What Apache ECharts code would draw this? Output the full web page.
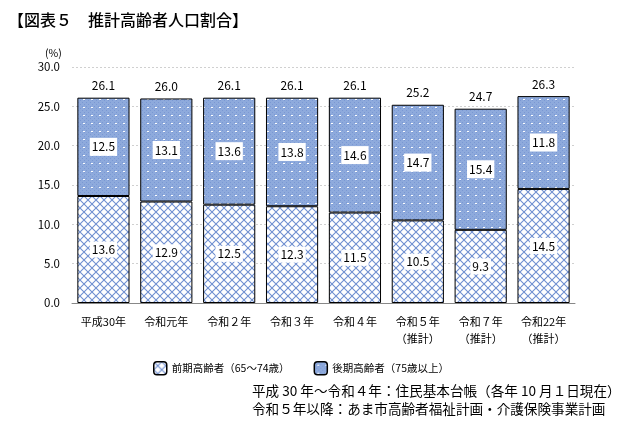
<!DOCTYPE html>
<html><head><meta charset="utf-8">
<script src="https://cdn.jsdelivr.net/npm/echarts@6/dist/echarts.min.js"></script>
<style>html,body{margin:0;padding:0;background:#fff}#c{width:635px;height:426px}</style>
</head><body><div id="c"></div>
<script>
const categories = ['平成30年','令和元年','令和２年','令和３年','令和４年','令和５年\n（推計）','令和７年\n（推計）','令和22年\n（推計）'];
const earlyElderly = [13.6,12.9,12.5,12.3,11.5,10.5,9.3,14.5];
const lateElderly = [12.5,13.1,13.6,13.8,14.6,14.7,15.4,11.8];
const totals = [26.1,26.0,26.1,26.1,26.1,25.2,24.7,26.3];
const yTicks = [0,5,10,15,20,25,30];

function makeLattice(){
  const c=document.createElement('canvas');c.width=8;c.height=8;
  const g=c.getContext('2d');
  g.fillStyle='#ffffff';g.fillRect(0,0,8,8);
  g.strokeStyle='#6f8fd0';g.lineWidth=1.1;
  g.beginPath();
  g.moveTo(0,0);g.lineTo(8,8);
  g.moveTo(8,0);g.lineTo(0,8);
  g.stroke();
  return c;
}
function makeDots(){
  const c=document.createElement('canvas');c.width=8;c.height=8;
  const g=c.getContext('2d');
  g.fillStyle='#8eaadc';g.fillRect(0,0,8,8);
  g.fillStyle='#7a98d4';
  for(let i=0;i<8;i+=2)for(let j=0;j<8;j+=2){ if(((i+j)/2)%2===0) g.fillRect(i,j,1,1);}
  g.fillStyle='#ffffff';
  g.fillRect(3,3,2,1);
  return c;
}
const latticeImg=makeLattice(), dotImg=makeDots();

const chart=echarts.init(document.getElementById('c'),null,{renderer:'canvas'});
const font='"Noto Sans CJK JP","Noto Sans",sans-serif';
chart.setOption({
  animation:false,
  textStyle:{fontFamily:font},
  title:[
    {text:'【図表５　推計高齢者人口割合】',left:3,top:7,textStyle:{fontSize:16,fontWeight:500,color:'#000',fontFamily:font}},
    {text:'(%)',left:40,top:43,textStyle:{fontSize:10.5,fontWeight:'normal',color:'#000',fontFamily:font}},
    {text:'平成 30 年～令和４年：住民基本台帳（各年 10 月１日現在）\n令和５年以降：あま市高齢者福祉計画・介護保険事業計画',left:247,top:377,textStyle:{fontSize:13.6,fontWeight:'normal',color:'#000',lineHeight:18,fontFamily:font}}
  ],
  legend:{
    left:148,top:356,itemWidth:13,itemHeight:13,itemGap:24,
    textStyle:{fontSize:10.5,color:'#000',fontFamily:font},
    data:[
      {name:'前期高齢者（65～74歳）',itemStyle:{borderColor:'#000',borderWidth:1.5}},
      {name:'後期高齢者（75歳以上）',itemStyle:{borderColor:'#000',borderWidth:1.5}}
    ]
  },
  grid:{left:72,right:60,top:67,bottom:123},
  xAxis:{type:'category',data:categories,
    axisLine:{lineStyle:{color:'#888',width:1}},axisTick:{show:false},
    axisLabel:{color:'#000',fontSize:11,margin:10,lineHeight:17,interval:0}},
  yAxis:{type:'value',min:0,max:30,interval:5,
    axisLine:{show:false},axisTick:{show:false},
    splitLine:{lineStyle:{color:'#d0d0d0',type:[2,2]}},
    axisLabel:{color:'#000',fontSize:11.5,margin:12,formatter:v=>yTicks.includes(v)?v.toFixed(1):''}},
  series:[
    {name:'前期高齢者（65～74歳）',type:'bar',stack:'a',barWidth:'83%',data:earlyElderly,
      itemStyle:{color:{image:latticeImg,repeat:'repeat'},borderColor:'#000',borderWidth:1},
      label:{show:true,position:'inside',color:'#000',fontSize:12,backgroundColor:'#fff',padding:[2,2],formatter:p=>p.value.toFixed(1)}},
    {name:'後期高齢者（75歳以上）',type:'bar',stack:'a',barWidth:'83%',data:lateElderly,
      itemStyle:{color:{image:dotImg,repeat:'repeat'},borderColor:'#000',borderWidth:1},
      label:{show:true,position:'inside',color:'#000',fontSize:12,backgroundColor:'#fff',padding:[3,2],formatter:p=>p.value.toFixed(1)}},
    {name:'total',type:'bar',stack:'a',barWidth:'83%',data:totals.map(()=>0),
      itemStyle:{color:'transparent'},
      label:{show:true,position:'top',distance:6,color:'#000',fontSize:12,formatter:p=>totals[p.dataIndex].toFixed(1)}}
  ]
});
</script></body></html>
